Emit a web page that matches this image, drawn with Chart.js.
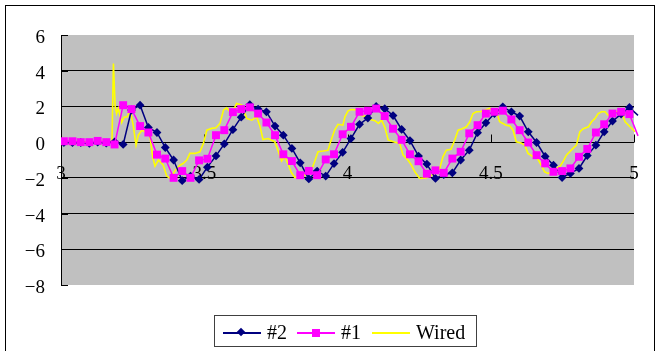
<!DOCTYPE html>
<html>
<head>
<meta charset="utf-8">
<script src="https://cdn.jsdelivr.net/npm/chart.js@4.4.1/dist/chart.umd.min.js"></script>
<style>
  html, body { margin: 0; padding: 0; background: #fff; }
  #wrap { position: relative; width: 659px; height: 351px; overflow: hidden; }
  #legend {
    position: absolute; left: 214px; top: 315px; width: 263px; height: 32px;
    border: 1px solid #404040; box-sizing: border-box;
    font-family: "Liberation Serif", serif; font-size: 20px; color: #000;
  }
  #legend .line { position: absolute; top: 16px; height: 2px; width: 38px; }
  #legend .txt { position: absolute; top: 5px; line-height: 22px; white-space: nowrap; }
  #legend .mark { position: absolute; }
</style>
</head>
<body>
<div id="wrap">
  <canvas id="chart" width="659" height="351"></canvas>
  <div id="legend">
    <div class="line" style="left:8px;background:#000080"></div>
    <div class="mark" style="left:23px;top:13px;width:6px;height:6px;background:#000080;transform:rotate(45deg)"></div>
    <div class="txt" style="left:52px">#2</div>
    <div class="line" style="left:82px;background:#ff00ff"></div>
    <div class="mark" style="left:97px;top:13px;width:8px;height:8px;background:#ff00ff"></div>
    <div class="txt" style="left:126px">#1</div>
    <div class="line" style="left:157px;background:#ffff00"></div>
    <div class="txt" style="left:201px">Wired</div>
  </div>
</div>
<script>
// ---- dados ----
const xTicks = [3, 3.5, 4, 4.5, 5]
const yTicks = [6, 4, 2, 0, -2, -4, -6, -8]

// posições x dos marcadores (#2 e #1)
const sampleX = [
  3.010, 3.040, 3.069, 3.099, 3.128, 3.158, 3.187, 3.217, 3.246, 3.276,
  3.305, 3.335, 3.364, 3.393, 3.423, 3.452, 3.482, 3.511, 3.541, 3.570,
  3.600, 3.629, 3.659, 3.688, 3.717, 3.747, 3.776, 3.806, 3.835, 3.865,
  3.894, 3.924, 3.953, 3.983, 4.012, 4.042, 4.071, 4.100, 4.130, 4.159,
  4.189, 4.218, 4.248, 4.277, 4.307, 4.336, 4.366, 4.395, 4.425, 4.454,
  4.483, 4.513, 4.542, 4.572, 4.601, 4.631, 4.660, 4.690, 4.719, 4.749,
  4.778, 4.808, 4.837, 4.867, 4.896, 4.925, 4.955, 4.984, 5.014
]

const series2 = [
  -0.02, -0.03, -0.02, -0.07, 0, -0.05, 0.02, -0.13, 1.8, 2.07,
  0.82, 0.54, -0.3, -1.0, -2.16, -1.9, -2.09, -1.4, -0.77, -0.1,
  0.7, 1.4, 2.1, 1.85, 1.7, 0.9, 0.39, -0.35, -1.16, -2.06,
  -1.62, -1.9, -1.2, -0.57, 0.2, 1.0, 1.35, 2.0, 1.87, 1.49,
  0.71, 0.09, -0.78, -1.23, -2.03, -1.82, -1.72, -1.0, -0.45, 0.53,
  1.08, 1.6, 1.98, 1.7, 1.46, 0.58, -0.02, -0.8, -1.29, -1.98,
  -1.75, -1.47, -0.75, -0.17, 0.58, 1.18, 1.57, 1.94, 1.5
]

const series1 = [
  0.05, 0.05, 0, 0, 0.07, 0, -0.13, 2.07, 1.85, 0.9,
  0.54, -0.7, -0.92, -2.0, -1.62, -2.0, -1.02, -0.93, 0.39, 0.67,
  1.68, 1.85, 1.95, 1.6, 1.1, 0.39, -0.68, -1.06, -1.85, -1.61,
  -1.85, -0.97, -0.68, 0.44, 0.86, 1.7, 1.76, 1.88, 1.46, 0.75,
  0.13, -0.68, -1.07, -1.77, -1.58, -1.72, -0.92, -0.54, 0.49, 0.95,
  1.6, 1.7, 1.76, 1.27, 0.67, -0.02, -0.73, -1.19, -1.66, -1.62,
  -1.47, -0.82, -0.38, 0.54, 1.0, 1.6, 1.7, 1.57, 0.35
]

const wiredX = [
  3.000, 3.031, 3.066, 3.101, 3.136, 3.164, 3.178, 3.183, 3.189, 3.194,
  3.200, 3.212, 3.220, 3.231, 3.241, 3.252, 3.262, 3.270, 3.282, 3.291,
  3.301, 3.311, 3.320, 3.328, 3.340, 3.357, 3.369, 3.381, 3.392, 3.404,
  3.415, 3.426, 3.439, 3.450, 3.468, 3.485, 3.497, 3.509, 3.526, 3.541,
  3.555, 3.567, 3.578, 3.596, 3.613, 3.631, 3.648, 3.666, 3.683, 3.695,
  3.705, 3.723, 3.746, 3.757, 3.770, 3.781, 3.792, 3.804, 3.816, 3.834,
  3.851, 3.862, 3.874, 3.885, 3.897, 3.915, 3.932, 3.939, 3.955, 3.967,
  3.984, 3.991, 4.002, 4.013, 4.033, 4.047, 4.065, 4.079, 4.096, 4.108,
  4.119, 4.131, 4.142, 4.160, 4.182, 4.194, 4.211, 4.223, 4.235, 4.252,
  4.274, 4.288, 4.304, 4.322, 4.333, 4.345, 4.361, 4.374, 4.386, 4.400,
  4.415, 4.427, 4.438, 4.450, 4.466, 4.479, 4.496, 4.511, 4.522, 4.531,
  4.554, 4.567, 4.578, 4.589, 4.606, 4.619, 4.630, 4.648, 4.661, 4.676,
  4.688, 4.700, 4.714, 4.729, 4.742, 4.752, 4.764, 4.781, 4.799, 4.811,
  4.823, 4.841, 4.852, 4.864, 4.875, 4.887, 4.899, 4.910, 4.923, 4.940,
  4.955, 4.969, 4.986, 5.004, 5.019
]

const wiredY = [
  0.05, 0, 0.05, 0, 0.05, 0, 0.05, 4.4, 2.0, 1.6,
  1.89, 1.1, 1.4, 1.42, 1.79, 0.95, -0.17, 0.39, 0.67, 0.6,
  0.86, 0.25, -0.82, -1.34, -1.0, -1.29, -1.9, -2.03, -1.75, -1.47,
  -1.29, -1.2, -1.0, -0.63, -0.63, -0.54, -0.07, 0.67, 0.77, 0.8,
  1.05, 1.79, 1.92, 1.6, 2.17, 2.07, 1.33, 1.23, 1.42, 0.86,
  0.15, 0.2, 0.02, -0.45, -1.05, -0.8, -1.2, -1.7, -1.98, -1.95,
  -1.85, -1.55, -1.57, -1.1, -0.54, -0.5, -0.45, -0.07, 0.67, 1.0,
  0.95, 1.42, 1.75, 1.83, 1.8, 1.5, 1.42, 1.27, 1.2, 1.05,
  1.23, 0.8, 0.12, 0.02, -0.07, -0.73, -1.0, -1.29, -1.66, -2.03,
  -2.0, -1.9, -1.75, -1.47, -0.82, -0.45, -0.4, 0.11, 0.67, 0.75,
  0.86, 1.14, 1.6, 1.7, 1.72, 1.79, 1.89, 1.8, 1.6, 1.14,
  0.95, 0.9, 0.67, 0.02, -0.05, -0.17, -0.63, -0.82, -0.85, -1.29,
  -1.66, -1.75, -1.7, -1.47, -1.35, -1.1, -0.73, -0.45, -0.17, 0.58,
  0.75, 0.86, 1.14, 1.33, 1.6, 1.7, 1.7, 1.51, 1.6, 1.7,
  1.7, 1.14, 0.86, 0.58, 0.02
]

const toPoints = (xs, ys) => xs.map((x, i) => ({ x: x, y: ys[i] }))

// fundo cinza, moldura externa e tracinhos dos eixos
const excelLook = {
  id: "excelLook",
  beforeDraw(chart) {
    const { ctx, chartArea: a } = chart
    ctx.save()
    ctx.fillStyle = "#fff"
    ctx.fillRect(0, 0, chart.width, chart.height)
    ctx.strokeStyle = "#000"
    ctx.lineWidth = 1
    ctx.strokeRect(5.5, 5.5, 649, 400)
    ctx.fillStyle = "#c0c0c0"
    ctx.fillRect(a.left, a.top, a.right - a.left, a.bottom - a.top)
    ctx.restore()
  },
  beforeDatasetsDraw(chart) {
    const { ctx, chartArea: a, scales } = chart
    ctx.save()
    ctx.strokeStyle = "#000"
    ctx.lineWidth = 1
    ctx.beginPath()
    yTicks.forEach((v) => {
      const y = Math.round(scales.y.getPixelForValue(v)) + 0.5
      ctx.moveTo(a.left, y)
      ctx.lineTo(a.left + 7, y)
    })
    const y0 = Math.round(scales.y.getPixelForValue(0)) + 0.5
    xTicks.forEach((v) => {
      const x = Math.round(scales.x.getPixelForValue(v)) + 0.5
      ctx.moveTo(x, y0)
      ctx.lineTo(x, y0 - 8)
    })
    ctx.stroke()
    ctx.restore()
  },
}

Chart.defaults.font.family = '"Liberation Serif", serif'
Chart.defaults.font.size = 19
Chart.defaults.color = "#000"

const hideBeyond = (ctx) => (ctx.raw && ctx.raw.x > 5 ? 0 : undefined)

new Chart(document.getElementById("chart").getContext("2d"), {
  type: "line",
  data: {
    datasets: [
      {
        label: "#1",
        data: toPoints(sampleX, series1),
        borderColor: "#ff00ff",
        backgroundColor: "#ff00ff",
        borderWidth: 1.5,
        pointStyle: "rect",
        pointRadius: (ctx) => (hideBeyond(ctx) === 0 ? 0 : 5.6),
        pointBorderWidth: 0,
        tension: 0,
        clip: { left: 0, top: 0, right: 8, bottom: 0 },
        order: 0,
      },
      {
        label: "#2",
        data: toPoints(sampleX, series2),
        borderColor: "#000080",
        backgroundColor: "#000080",
        borderWidth: 1.5,
        pointStyle: "rectRot",
        pointRadius: (ctx) => (hideBeyond(ctx) === 0 ? 0 : 4.4),
        pointBorderWidth: 0,
        tension: 0,
        clip: { left: 0, top: 0, right: 8, bottom: 0 },
        order: 1,
      },
      {
        label: "Wired",
        data: toPoints(wiredX, wiredY),
        borderColor: "#ffff00",
        backgroundColor: "#ffff00",
        borderWidth: 1.6,
        pointRadius: 0,
        tension: 0,
        clip: { left: 0, top: 0, right: 8, bottom: 0 },
        order: 2,
      },
    ],
  },
  options: {
    responsive: false,
    animation: false,
    events: [],
    layout: { padding: { left: 0, top: 35, right: 25, bottom: 66 } },
    plugins: { legend: { display: false }, tooltip: { enabled: false } },
    scales: {
      x: {
        type: "linear",
        position: { y: 0 },
        min: 3,
        max: 5,
        afterBuildTicks: (s) => { s.ticks = xTicks.map((v) => ({ value: v })) },
        grid: { display: false },
        border: { display: false },
        ticks: { padding: 12, maxRotation: 0, autoSkip: false, callback: (v) => String(v) },
      },
      y: {
        min: -8,
        max: 6,
        afterBuildTicks: (s) => { s.ticks = yTicks.map((v) => ({ value: v })) },
        afterFit: (s) => { s.width = 61 },
        grid: {
          drawTicks: false,
          color: (ctx) => (ctx.tick && (ctx.tick.value === 6 || ctx.tick.value === -8) ? "rgba(0,0,0,0)" : "#000"),
          lineWidth: 1,
        },
        border: { display: true, color: "#000", width: 1 },
        ticks: {
          padding: 16,
          labelOffset: 3,
          callback: (v) => (v < 0 ? "\u2212" + Math.abs(v) : String(v)),
        },
      },
    },
  },
  plugins: [excelLook],
})
</script>
</body>
</html>
